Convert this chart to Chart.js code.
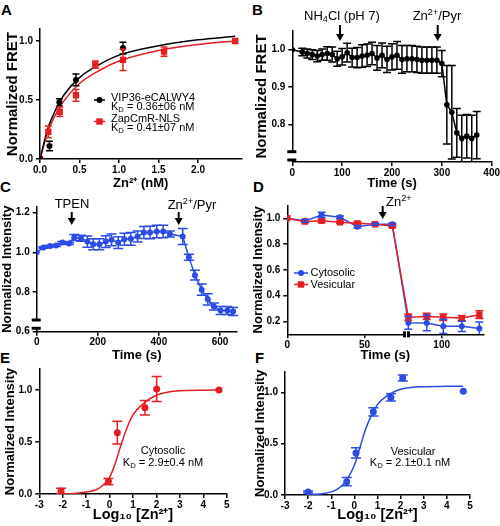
<!DOCTYPE html>
<html>
<head>
<meta charset="utf-8">
<script src="https://cdn.jsdelivr.net/npm/chart.js@4.4.1/dist/chart.umd.min.js"></script>
<style>
  body { margin: 0; background: #fff; width: 500px; height: 526px; position: relative; overflow: hidden; }
  canvas { position: absolute; }
  .tag { position: absolute; font: bold 15px/15px "Liberation Sans", Arial, sans-serif; color: #000; }
</style>
</head>
<body>
<div class="tag" style="left:1px;top:2px">A</div>
<div class="tag" style="left:252px;top:2px">B</div>
<div class="tag" style="left:0px;top:179px">C</div>
<div class="tag" style="left:253px;top:179px">D</div>
<div class="tag" style="left:0px;top:350px">E</div>
<div class="tag" style="left:255px;top:350px">F</div>
<canvas id="pa"></canvas>
<canvas id="pb"></canvas>
<canvas id="pc"></canvas>
<canvas id="pd"></canvas>
<canvas id="pe"></canvas>
<canvas id="pf"></canvas>
<script>
// ---- data ----
// A: FRET vs Zn2+ (nM)
const aBlackZn = [0, 0.12, 0.245, 0.455, 1.05];
const aBlackFret = [0, 0.11, 0.48, 0.67, 0.94];
const aBlackErr = [0, 0.04, 0.03, 0.05, 0.05];
const aRedZn = [0, 0.105, 0.25, 0.455, 0.70, 1.05, 1.57, 2.47];
const aRedFret = [0, 0.23, 0.40, 0.54, 0.80, 0.84, 0.91, 1.0];
const aRedErr = [0, 0.05, 0.04, 0.05, 0.03, 0.09, 0.04, 0];
const aFitZn = [0, 0.1, 0.2, 0.3, 0.5, 0.75, 1.0, 1.5, 2.0, 2.47];
const aFitBlack = [0, 0.26, 0.42, 0.54, 0.69, 0.80, 0.88, 0.96, 1.01, 1.04];
const aFitRed = [0, 0.23, 0.38, 0.49, 0.64, 0.75, 0.83, 0.92, 0.97, 1.0];
const aXTicks = [0, 0.5, 1, 1.5, 2];
const aYTicks = [0, 0.5, 1];

// B: FRET time course
const bTime = [0, 20, 30, 40, 50, 60, 70, 80, 90, 100, 110, 120, 130, 140, 150, 160, 170, 180, 190,
  200, 210, 220, 230, 240, 250, 260, 270, 280, 290, 300, 310, 320, 330, 340, 350, 360, 370];
const bFret = [1.0, 0.994, 0.99, 0.987, 0.983, 0.987, 0.99, 0.987, 0.976, 0.981, 0.992, 0.979, 0.979,
  0.983, 0.985, 0.99, 0.978, 0.985, 0.974, 0.981, 0.985, 0.974, 0.976, 0.976, 0.974, 0.972, 0.972,
  0.972, 0.972, 0.963, 0.853, 0.833, 0.778, 0.763, 0.769, 0.763, 0.772];
const bErr = [0, 0.01, 0.012, 0.013, 0.015, 0.015, 0.018, 0.02, 0.02, 0.022, 0.025, 0.025, 0.027,
  0.03, 0.03, 0.03, 0.033, 0.033, 0.035, 0.035, 0.037, 0.037, 0.035, 0.035, 0.035, 0.035, 0.035,
  0.035, 0.035, 0.035, 0.105, 0.125, 0.065, 0.062, 0.058, 0.062, 0.063];
const bXTicks = [0, 100, 200, 300, 400];
const bYTicks = [0.8, 0.9, 1.0];

// C: intensity time course
const cTime = [0, 22, 44, 63, 84, 106, 123, 145, 166, 185, 205, 226, 245, 267, 287, 308, 330, 351,
  371, 393, 414, 436, 478, 498, 518, 540, 560, 580, 602, 624, 643];
const cInt = [1.0, 1.024, 1.032, 1.034, 1.049, 1.044, 1.075, 1.071, 1.054, 1.041, 1.041, 1.054, 1.063,
  1.049, 1.066, 1.068, 1.08, 1.10, 1.10, 1.105, 1.105, 1.092, 1.08, 0.975, 0.885, 0.812, 0.763,
  0.727, 0.707, 0.707, 0.702];
const cErr = [0, 0.004, 0.004, 0.004, 0.005, 0.005, 0.015, 0.015, 0.028, 0.028, 0.028, 0.03, 0.03,
  0.03, 0.03, 0.032, 0.028, 0.03, 0.032, 0.032, 0.032, 0.015, 0.04, 0.015, 0.025, 0.028, 0.028,
  0.018, 0.02, 0.02, 0.02];
const cXTicks = [0, 200, 400, 600];
const cYTicks = [0.6, 0.8, 1.0, 1.2];

// D: cytosolic vs vesicular
const dTime = [0, 11.4, 22.2, 34.1, 45.4, 56.8, 68.0, 78.4, 90.3, 101, 113, 124.4];
const dCyto = [1.0, 0.98, 1.026, 1.008, 0.935, 0.954, 0.954, 0.19, 0.187, 0.162, 0.162, 0.145];
const dCytoErr = [0, 0.01, 0.02, 0.01, 0.01, 0.008, 0.01, 0.05, 0.06, 0.055, 0.04, 0.05];
const dVes = [1.0, 0.974, 0.98, 0.969, 0.961, 0.954, 0.941, 0.232, 0.239, 0.232, 0.226, 0.252];
const dVesErr = [0, 0.008, 0.01, 0.008, 0.01, 0.008, 0.01, 0.025, 0.025, 0.025, 0.02, 0.03];
const dXTicks = [0, 50, 100];
const dYTicks = [0.2, 0.4, 0.6, 0.8, 1.0];

// E: cytosolic titration
const eLog = [-2.07, -0.05, 0.33, 1.51, 2.01, 4.67];
const eInt = [0.03, 0.12, 0.59, 0.83, 1.01, 1.0];
const eErr = [0.025, 0.03, 0.11, 0.07, 0.12, 0];
const eFitLog = [-2.1, -1.5, -1, -0.5, 0, 0.25, 0.5, 0.75, 1, 1.5, 2, 2.5, 3, 4, 4.67];
const eFit = [0.0, 0.005, 0.02, 0.05, 0.16, 0.3, 0.48, 0.64, 0.76, 0.88, 0.95, 0.98, 0.992, 0.998, 1.0];

// F: vesicular titration
const fLog = [-2.0, -0.33, 0.07, 0.82, 1.58, 2.09, 4.71];
const fInt = [0.03, 0.13, 0.41, 0.81, 0.95, 1.14, 1.01];
const fErr = [0.01, 0.04, 0.05, 0.04, 0.035, 0.03, 0];
const fFitLog = [-2, -1.5, -1, -0.5, 0, 0.25, 0.5, 0.75, 1, 1.5, 2, 2.5, 3, 4, 4.7];
const fFit = [0.005, 0.01, 0.03, 0.1, 0.29, 0.47, 0.65, 0.78, 0.88, 0.98, 1.03, 1.05, 1.055, 1.06, 1.06];
const logXTicks = [-3, -2, -1, 0, 1, 2, 3, 4, 5];
const logYTicks = [0, 0.5, 1];

const FONT = '"Liberation Sans", Arial, sans-serif';
const BLUE = '#2d4be6';
const RED = '#e41e22';

const pts = (xs, ys) => xs.map((x, i) => ({ x: x, y: ys[i] }));

function series(xs, ys, err, color, style, r, cap) {
  return {
    data: pts(xs, ys), err: err, cap: cap,
    showLine: true, borderColor: color, backgroundColor: color, borderWidth: 1.5,
    pointStyle: style, pointRadius: r, pointBorderWidth: 0
  };
}
function fit(xs, ys, color) {
  return {
    data: pts(xs, ys), showLine: true, borderColor: color, borderWidth: 1.5,
    pointRadius: 0, cubicInterpolationMode: 'monotone'
  };
}

// error bars drawn from the same scales as the points
const errorBars = {
  id: 'errorBars',
  afterDatasetsDraw(chart) {
    const { ctx, chartArea: a, scales: { x, y } } = chart;
    ctx.save();
    ctx.beginPath();
    ctx.rect(a.left - 6, a.top - 8, a.right - a.left + 14, a.bottom - a.top + 8);
    ctx.clip();
    chart.data.datasets.forEach(ds => {
      if (!ds.err) return;
      ctx.strokeStyle = ds.borderColor;
      ctx.lineWidth = 1.5;
      ds.data.forEach((p, i) => {
        const e = ds.err[i];
        if (!e) return;
        const px = x.getPixelForValue(p.x);
        const y1 = Math.min(y.getPixelForValue(p.y - e), a.bottom);
        const y2 = y.getPixelForValue(p.y + e);
        const w = ds.cap;
        ctx.beginPath();
        ctx.moveTo(px, y1); ctx.lineTo(px, y2);
        ctx.moveTo(px - w, y2); ctx.lineTo(px + w, y2);
        if (y1 < a.bottom) { ctx.moveTo(px - w, y1); ctx.lineTo(px + w, y1); }
        ctx.stroke();
      });
    });
    ctx.restore();
  }
};

function rich(ctx, parts, x, y, size, align, weight) {
  const segs = parts.map(p => typeof p === 'string' ? [p, ''] : p);
  const fontOf = k => (weight || 'normal') + ' ' + (k ? size * 0.7 : size) + 'px ' + FONT;
  let w = 0;
  segs.forEach(([t, k]) => { ctx.font = fontOf(k); w += ctx.measureText(t).width; });
  let cx = align === 'center' ? x - w / 2 : x;
  ctx.textBaseline = 'middle';
  ctx.textAlign = 'left';
  ctx.fillStyle = '#000';
  segs.forEach(([t, k]) => {
    ctx.font = fontOf(k);
    const dy = k === 'sub' ? size * 0.3 : k === 'sup' ? -size * 0.3 : 0;
    ctx.fillText(t, cx, y + dy);
    cx += ctx.measureText(t).width;
  });
}

// annotations given in page pixels, shifted into each canvas
function decor(cv, items) {
  return {
    id: 'decor',
    afterDraw(chart) {
      const ctx = chart.ctx;
      ctx.save();
      ctx.translate(-cv[0], -cv[1]);
      items.forEach(it => {
        if (it.type === 'text') {
          rich(ctx, it.parts, it.x, it.y, it.size, it.align, it.weight);
        } else if (it.type === 'arrow') {
          ctx.strokeStyle = '#000'; ctx.fillStyle = '#000'; ctx.lineWidth = 2;
          ctx.beginPath(); ctx.moveTo(it.x, it.y1); ctx.lineTo(it.x, it.y2 - 5); ctx.stroke();
          ctx.beginPath(); ctx.moveTo(it.x - 4, it.y2 - 7); ctx.lineTo(it.x + 4, it.y2 - 7);
          ctx.lineTo(it.x, it.y2); ctx.closePath(); ctx.fill();
        } else if (it.type === 'ybreak') {
          ctx.fillStyle = '#fff'; ctx.fillRect(it.x - 2, it.y1, 4, it.y2 - it.y1);
          ctx.fillStyle = '#000';
          ctx.fillRect(it.x - 5, it.y1 - 1.5, 9, 3);
          ctx.fillRect(it.x - 5, it.y2 - 1.5, 9, 3);
        } else if (it.type === 'xbreak') {
          ctx.fillStyle = '#fff'; ctx.fillRect(it.x1, it.y - 2, it.x2 - it.x1, 4);
          ctx.fillStyle = '#000';
          ctx.fillRect(it.x1 - 1.5, it.y - 3, 3, 6);
          ctx.fillRect(it.x2 - 1.5, it.y - 3, 3, 6);
        } else if (it.type === 'key') {
          ctx.strokeStyle = it.color; ctx.fillStyle = it.color; ctx.lineWidth = 1.5;
          ctx.beginPath(); ctx.moveTo(it.x1, it.y); ctx.lineTo(it.x2, it.y); ctx.stroke();
          const m = (it.x1 + it.x2) / 2;
          ctx.beginPath();
          if (it.style === 'rect') ctx.rect(m - 3.2, it.y - 3.2, 6.4, 6.4);
          else ctx.arc(m, it.y, 3, 0, Math.PI * 2);
          ctx.fill();
        }
      });
      ctx.restore();
    }
  };
}

function axis(a, size, dir) {
  return {
    type: 'linear', min: a.min, max: a.max,
    afterFit: s => { if (dir === 'x') s.height = size; else s.width = size; },
    afterBuildTicks: s => { s.ticks = a.ticks.map(v => ({ value: v })); },
    ticks: {
      color: '#000', font: { family: FONT, size: 10, weight: 'bold' },
      padding: dir === 'x' ? 1 : 3, autoSkip: false, maxRotation: 0,
      callback: a.fmt
    },
    grid: { display: true, drawOnChartArea: false, drawTicks: true, tickLength: 4, color: '#000', lineWidth: 1.5 },
    border: { display: true, color: '#000', width: 1.5 },
    title: {
      display: true, text: a.title, color: '#000',
      font: { family: FONT, size: a.tsize, weight: 'bold' },
      padding: { top: a.tpad, bottom: a.tpad }
    }
  };
}

// cv = canvas [left, top, width, height]; box = plot [left, top, right, bottom], page pixels
function panel(id, cv, box, o) {
  const el = document.getElementById(id);
  el.width = cv[2]; el.height = cv[3];
  el.style.left = cv[0] + 'px'; el.style.top = cv[1] + 'px';
  const yW = box[0] - cv[0];
  const xH = cv[1] + cv[3] - box[3];
  return new Chart(el, {
    type: 'scatter',
    data: { datasets: o.datasets },
    options: {
      responsive: false, animation: false, devicePixelRatio: 1,
      layout: { padding: { left: 0, top: box[1] - cv[1], right: cv[0] + cv[2] - box[2], bottom: 0 } },
      plugins: { legend: { display: false }, tooltip: { enabled: false } },
      scales: { x: axis(o.x, xH, 'x'), y: axis(o.y, yW, 'y') }
    },
    plugins: [errorBars, decor(cv, o.decor || [])]
  });
}

const f1 = v => v.toFixed(1);
const f0 = v => String(v);
const ZN = ['Zn', ['2+', 'sup']];

// ---- A ----
panel('pa', [0, 0, 250, 192], [40, 29.2, 241.5, 159], {
  datasets: [
    Object.assign(series(aBlackZn, aBlackFret, aBlackErr, '#000', 'circle', 3, 3.5), { showLine: false }),
    Object.assign(series(aRedZn, aRedFret, aRedErr, RED, 'rect', 4.5, 3.5), { showLine: false }),
    fit(aFitZn, aFitBlack, '#000'),
    fit(aFitZn, aFitRed, RED)
  ],
  x: { min: 0, max: 2.55, ticks: aXTicks, fmt: f1, title: 'Zn²⁺ (nM)', tsize: 13, tpad: 1 },
  y: { min: 0, max: 1.1, ticks: aYTicks, fmt: f1, title: 'Normalized FRET', tsize: 15, tpad: 4 },
  decor: [
    { type: 'key', x1: 94, x2: 105, y: 100, color: '#000', style: 'circle' },
    { type: 'text', parts: ['VIP36-eCALWY4'], x: 111, y: 97.5, size: 11 },
    { type: 'text', parts: ['K', ['D', 'sub'], ' = 0.36±06 nM'], x: 111, y: 106.5, size: 11 },
    { type: 'key', x1: 94, x2: 105, y: 121.5, color: RED, style: 'rect' },
    { type: 'text', parts: ['ZapCmR-NLS'], x: 111, y: 118.5, size: 11 },
    { type: 'text', parts: ['K', ['D', 'sub'], ' = 0.41±07 nM'], x: 111, y: 127.5, size: 11 }
  ]
});

// ---- B ----
panel('pb', [250, 0, 262, 192], [292.3, 31, 491.7, 162], {
  datasets: [series(bTime, bFret, bErr, '#000', 'circle', 2.8, 4)],
  x: { min: 0, max: 400, ticks: bXTicks, fmt: f0, title: 'Time (s)', tsize: 13, tpad: 1 },
  y: { min: 0.7, max: 1.05, ticks: bYTicks, fmt: f1, title: 'Normalized FRET', tsize: 15, tpad: 3 },
  decor: [
    { type: 'text', parts: ['NH', ['4', 'sub'], 'Cl (pH 7)'], x: 342, y: 16, size: 13, align: 'center' },
    { type: 'arrow', x: 340, y1: 25, y2: 41 },
    { type: 'text', parts: ZN.concat(['/Pyr']), x: 437, y: 16, size: 13, align: 'center' },
    { type: 'arrow', x: 437.7, y1: 25, y2: 41 },
    { type: 'ybreak', x: 292.3, y1: 151.7, y2: 160 }
  ]
});

// ---- C ----
panel('pc', [0, 178, 250, 185], [36.7, 206.7, 236.8, 331.7], {
  datasets: [series(cTime, cInt, cErr, BLUE, 'circle', 3, 5)],
  x: { min: 0, max: 655, ticks: cXTicks, fmt: f0, title: 'Time (s)', tsize: 13, tpad: 0 },
  y: { min: 0.6, max: 1.23, ticks: cYTicks, fmt: f1, title: 'Normalized Intensity', tsize: 13, tpad: 0 },
  decor: [
    { type: 'text', parts: ['TPEN'], x: 72, y: 204, size: 13, align: 'center' },
    { type: 'arrow', x: 71.7, y1: 212, y2: 225 },
    { type: 'text', parts: ZN.concat(['/Pyr']), x: 192, y: 205, size: 13, align: 'center' },
    { type: 'arrow', x: 178.7, y1: 212, y2: 225 },
    { type: 'ybreak', x: 36.7, y1: 320, y2: 328.3 }
  ]
});

// ---- D ----
panel('pd', [250, 178, 262, 185], [287.3, 205.4, 483.4, 334.3], {
  datasets: [
    Object.assign(series(dTime, dVes, dVesErr, RED, 'rect', 4.5, 4), { order: 0 }),
    Object.assign(series(dTime, dCyto, dCytoErr, BLUE, 'circle', 3, 4), { order: 1 })
  ],
  x: { min: 0, max: 127, ticks: dXTicks, fmt: f0, title: 'Time (s)', tsize: 13, tpad: 0 },
  y: { min: 0.1, max: 1.1, ticks: dYTicks, fmt: f1, title: 'Normalized Intensity', tsize: 13, tpad: 1 },
  decor: [
    { type: 'text', parts: ZN, x: 386, y: 202, size: 13 },
    { type: 'arrow', x: 382.7, y1: 206, y2: 219 },
    { type: 'key', x1: 294, x2: 308, y: 273, color: BLUE, style: 'circle' },
    { type: 'text', parts: ['Cytosolic'], x: 310.5, y: 273, size: 11 },
    { type: 'key', x1: 294, x2: 308, y: 284.5, color: RED, style: 'rect' },
    { type: 'text', parts: ['Vesicular'], x: 310.5, y: 284.5, size: 11 },
    { type: 'xbreak', y: 334.3, x1: 404.5, x2: 408.5 }
  ]
});

// ---- E ----
panel('pe', [0, 352, 250, 174], [39.3, 369.2, 226.7, 494], {
  datasets: [
    Object.assign(series(eLog, eInt, eErr, RED, 'circle', 3.5, 5), { showLine: false }),
    fit(eFitLog, eFit, RED)
  ],
  x: { min: -3, max: 5, ticks: logXTicks, fmt: f0, title: 'Log₁₀ [Zn²⁺]', tsize: 14.5, tpad: 2 },
  y: { min: 0, max: 1.2, ticks: logYTicks, fmt: f1, title: 'Normalized Intensity', tsize: 13, tpad: 2.5 },
  decor: [
    { type: 'text', parts: ['Cytosolic'], x: 163, y: 451, size: 11, align: 'center' },
    { type: 'text', parts: ['K', ['D', 'sub'], ' = 2.9±0.4 nM'], x: 163, y: 462.5, size: 11, align: 'center' }
  ]
});

// ---- F ----
panel('pf', [250, 352, 262, 174], [285, 371.8, 470, 495], {
  datasets: [
    Object.assign(series(fLog, fInt, fErr, BLUE, 'circle', 3.5, 5), { showLine: false }),
    fit(fFitLog, fFit, BLUE)
  ],
  x: { min: -3, max: 5, ticks: logXTicks, fmt: f0, title: 'Log₁₀ [Zn²⁺]', tsize: 14.5, tpad: 2 },
  y: { min: 0, max: 1.2, ticks: logYTicks, fmt: f1, title: 'Normalized Intensity', tsize: 13, tpad: 3 },
  decor: [
    { type: 'text', parts: ['Vesicular'], x: 413, y: 451.5, size: 11, align: 'center' },
    { type: 'text', parts: ['K', ['D', 'sub'], ' = 2.1±0.1 nM'], x: 410, y: 463, size: 11, align: 'center' }
  ]
});
</script>
</body>
</html>
